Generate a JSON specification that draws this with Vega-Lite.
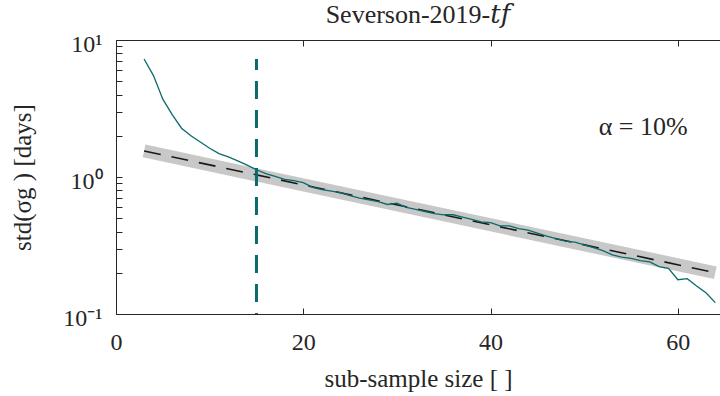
{
  "$schema": "https://vega.github.io/schema/vega-lite/v6.json",
  "autosize": {"type": "none"},
  "padding": {"left": 116, "top": 40, "right": 0, "bottom": 82},
  "width": 604,
  "height": 274,
  "background": "white",
  "config": {
    "view": {"stroke": null},
    "font": "Liberation Serif, Times New Roman, serif",
    "axis": {
      "labelFont": "Liberation Serif, Times New Roman, serif",
      "titleFont": "Liberation Serif, Times New Roman, serif",
      "labelFontSize": 24,
      "titleFontSize": 25,
      "titleFontWeight": "normal",
      "labelColor": "#262626",
      "titleColor": "#262626",
      "domainColor": "#262626",
      "tickColor": "#262626",
      "grid": false,
      "tickSize": -6
    },
    "title": {"font": "Liberation Serif, Times New Roman, DejaVu Serif, serif", "fontSize": 26, "fontWeight": "normal", "color": "#262626"}
  },
  "title": {"text": "Severson-2019-𝑡𝑓", "offset": 4},
  "datasets": {
    "curve": [
      {"n": 3, "s": 7.26}, {"n": 4, "s": 5.5}, {"n": 5, "s": 3.7}, {"n": 6, "s": 2.85},
      {"n": 7, "s": 2.27}, {"n": 8, "s": 2.0}, {"n": 9, "s": 1.8}, {"n": 10, "s": 1.62},
      {"n": 11, "s": 1.48}, {"n": 12, "s": 1.4}, {"n": 13, "s": 1.31}, {"n": 14, "s": 1.22},
      {"n": 15, "s": 1.13}, {"n": 16, "s": 1.06}, {"n": 17, "s": 1.01}, {"n": 18, "s": 0.96},
      {"n": 19, "s": 0.94}, {"n": 20, "s": 0.91}, {"n": 21, "s": 0.84}, {"n": 22, "s": 0.81},
      {"n": 23, "s": 0.79}, {"n": 24, "s": 0.77}, {"n": 25, "s": 0.73}, {"n": 26, "s": 0.7},
      {"n": 27, "s": 0.68}, {"n": 28, "s": 0.66}, {"n": 29, "s": 0.63}, {"n": 30, "s": 0.645},
      {"n": 31, "s": 0.6}, {"n": 32, "s": 0.58}, {"n": 33, "s": 0.56}, {"n": 34, "s": 0.54},
      {"n": 35, "s": 0.53}, {"n": 36, "s": 0.53}, {"n": 37, "s": 0.51}, {"n": 38, "s": 0.49},
      {"n": 39, "s": 0.47}, {"n": 40, "s": 0.465}, {"n": 41, "s": 0.44}, {"n": 42, "s": 0.44},
      {"n": 43, "s": 0.42}, {"n": 44, "s": 0.41}, {"n": 45, "s": 0.39}, {"n": 46, "s": 0.37},
      {"n": 47, "s": 0.355}, {"n": 48, "s": 0.34}, {"n": 49, "s": 0.335}, {"n": 50, "s": 0.32},
      {"n": 51, "s": 0.305}, {"n": 52, "s": 0.29}, {"n": 53, "s": 0.27}, {"n": 54, "s": 0.26},
      {"n": 55, "s": 0.255}, {"n": 56, "s": 0.245}, {"n": 57, "s": 0.24}, {"n": 58, "s": 0.222},
      {"n": 59, "s": 0.215}, {"n": 60, "s": 0.178}, {"n": 61, "s": 0.181}, {"n": 62, "s": 0.16},
      {"n": 63, "s": 0.143}, {"n": 64, "s": 0.121}
    ],
    "trend": [{"n": 3, "s": 1.55}, {"n": 64, "s": 0.2}],
    "vline": [{"n": 15, "s": 7.26, "s2": 0.1}],
    "label": [{"n": 56.3, "s": 2.3, "t": "α = 10%"}]
  },
  "encoding": {
    "y": {"field": "s", "type": "quantitative",
          "scale": {"type": "log", "domain": [0.1, 10], "nice": false},
          "axis": {"orient": "left",
                   "values": [0.1, 0.2, 0.3, 0.4, 0.5, 0.6, 0.7, 0.8, 0.9, 1, 2, 3, 4, 5, 6, 7, 8, 9, 10],
                   "labelExpr": "datum.value == 10 ? '10¹' : (datum.value == 1 ? '10⁰' : (datum.value == 0.1 ? '10⁻¹' : ''))",
                   "labelOverlap": false, "labelFlush": false, "labelPadding": 20, "labelOffset": 4,
                   "title": "std(σg ) [days]", "titlePadding": 27}}
  },
  "layer": [
    {
      "data": {"name": "trend"},
      "mark": {"type": "line", "color": "#c8c8c8", "strokeWidth": 13, "strokeCap": "butt"},
      "encoding": {
        "x": {"field": "n", "type": "quantitative",
              "scale": {"domain": [0, 64.5], "nice": false, "zero": false},
              "axis": {"orient": "bottom", "values": [0, 20, 40, 60], "title": "sub-sample size [ ]",
                       "labelPadding": 22, "labelFlush": false, "titleY": 64, "titleBaseline": "middle"}}
      }
    },
    {
      "data": {"name": "trend"},
      "mark": {"type": "line", "color": "#1a1a1a", "strokeWidth": 1.6, "strokeDash": [17, 11]},
      "encoding": {
        "x": {"field": "n", "type": "quantitative", "axis": null}
      }
    },
    {
      "data": {"name": "curve"},
      "mark": {"type": "line", "color": "#0b6b6b", "strokeWidth": 1.3},
      "encoding": {
        "x": {"field": "n", "type": "quantitative", "axis": null}
      }
    },
    {
      "data": {"name": "vline"},
      "mark": {"type": "rule", "color": "#0b6b6b", "strokeWidth": 3, "strokeDash": [18, 11], "strokeDashOffset": 7},
      "encoding": {
        "x": {"field": "n", "type": "quantitative", "axis": null},
        "y2": {"field": "s2"}
      }
    },
    {
      "data": {"name": "label"},
      "mark": {"type": "text", "font": "Liberation Serif, Times New Roman, serif", "fontSize": 26, "color": "#262626", "align": "center", "baseline": "middle"},
      "encoding": {
        "x": {"field": "n", "type": "quantitative", "axis": null},
        "text": {"field": "t"}
      }
    },
    {
      "data": {"name": "trend"},
      "mark": {"type": "point", "opacity": 0},
      "encoding": {
        "x": {"field": "n", "type": "quantitative",
              "axis": {"orient": "top", "values": [0, 20, 40, 60], "labels": false, "title": null}}
      }
    }
  ],
  "resolve": {"axis": {"x": "independent"}}
}
